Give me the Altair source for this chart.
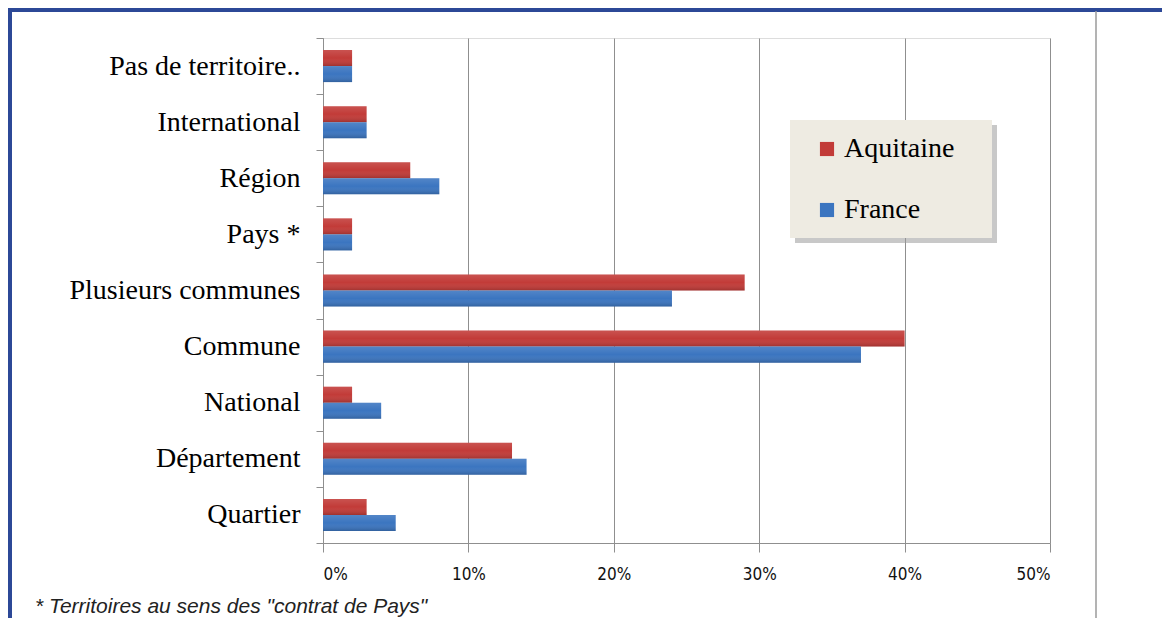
import altair as alt
import pandas as pd

categories = ["Pas de territoire..", "International", "Région", "Pays *",
              "Plusieurs communes", "Commune", "National", "Département", "Quartier"]
aquitaine = [2, 3, 6, 2, 29, 40, 2, 13, 3]
france = [2, 3, 8, 2, 24, 37, 4, 14, 5]
series = ["Aquitaine", "France"]
series_colors = ["#C23B38", "#3B75C0"]
x_ticks = [0, 0.1, 0.2, 0.3, 0.4, 0.5]
footnote = '* Territoires au sens des "contrat de Pays"'

rows = []
for c, a, f in zip(categories, aquitaine, france):
    rows.append({"cat": c, "serie": "Aquitaine", "val": a / 100})
    rows.append({"cat": c, "serie": "France", "val": f / 100})
df = pd.DataFrame(rows)

W, H = 727, 505
GRAY = "#8f8f8f"
SERIF = "Liberation Serif"
SANS = "'DejaVu Sans Condensed', 'Liberation Sans', sans-serif"

x_enc = alt.X("val:Q", scale=alt.Scale(domain=[0, 0.5], nice=False),
              axis=alt.Axis(title=None, values=x_ticks, format=".0%", grid=True,
                            gridColor=GRAY, gridWidth=1, domainColor=GRAY, tickColor=GRAY,
                            tickSize=9, labelFont=SANS, labelFontSize=17, labelColor="#111",
                            labelPadding=14))
y_enc = alt.Y("cat:N", sort=categories, scale=alt.Scale(paddingInner=0, paddingOuter=0),
              axis=alt.Axis(title=None, tickBand="extent", tickSize=7, tickColor=GRAY,
                            domainColor=GRAY, labelFont=SERIF, labelFontSize=28,
                            labelColor="#000", labelPadding=16, labelLimit=400, grid=False))
yoff = alt.YOffset("serie:N", sort=series, scale=alt.Scale(paddingInner=0, paddingOuter=0.75))

bars = alt.Chart(df).mark_bar().encode(
    x=x_enc, y=y_enc, yOffset=yoff,
    color=alt.Color("serie:N", sort=series,
                    scale=alt.Scale(domain=series, range=series_colors),
                    legend=alt.Legend(title=None, orient="none", legendX=490, legendY=97,
                                      symbolType="square", symbolSize=200, symbolStrokeWidth=0,
                                      labelFont=SERIF, labelFontSize=28, labelColor="#000",
                                      labelOffset=3, rowPadding=33, padding=0)),
)

shine = alt.Chart(df).mark_bar(
    color=alt.LinearGradient(
        gradient="linear", x1=0, y1=0, x2=0, y2=1,
        stops=[alt.GradientStop(offset=0, color="rgba(255,255,255,0.12)"),
               alt.GradientStop(offset=0.5, color="rgba(255,255,255,0)"),
               alt.GradientStop(offset=1, color="rgba(0,0,0,0.18)")])
).encode(x="val:Q", y=alt.Y("cat:N", sort=categories), yOffset=alt.YOffset("serie:N", sort=series))

one = alt.Data(values=[{}])

legend_shadow = alt.Chart(one).mark_rect(color="#9a9a9a", opacity=0.55).encode(
    x=alt.value(472), x2=alt.value(674), y=alt.value(87), y2=alt.value(205))
legend_box = alt.Chart(one).mark_rect(color="#EEEBE2").encode(
    x=alt.value(467), x2=alt.value(669), y=alt.value(82), y2=alt.value(200))

top_line = alt.Chart(one).mark_rule(color="#2C4897", strokeWidth=4).encode(
    x=alt.value(-315), x2=alt.value(839), y=alt.value(-28))
left_line = alt.Chart(one).mark_rule(color="#2C4897", strokeWidth=4).encode(
    x=alt.value(-313), y=alt.value(-30), y2=alt.value(580))
right_line = alt.Chart(one).mark_rule(color="#9a9a9a", strokeWidth=1.5).encode(
    x=alt.value(773), y=alt.value(-27), y2=alt.value(580))

note = alt.Chart(one).mark_text(
    text=footnote, align="left", baseline="alphabetic", font="Liberation Sans",
    fontStyle="italic", fontSize=21, color="#222"
).encode(x=alt.value(-288), y=alt.value(575))

chart = alt.layer(
    bars, shine, legend_shadow, legend_box, top_line, left_line, right_line, note
).properties(
    width=W, height=H,
    padding={"left": 315, "top": 30, "right": 112, "bottom": 83},
    autosize=alt.AutoSizeParams(type="none"),
).configure_view(strokeWidth=0).configure(background="white")

chart.save("out.html", embed_options={"renderer": "svg", "actions": False})
